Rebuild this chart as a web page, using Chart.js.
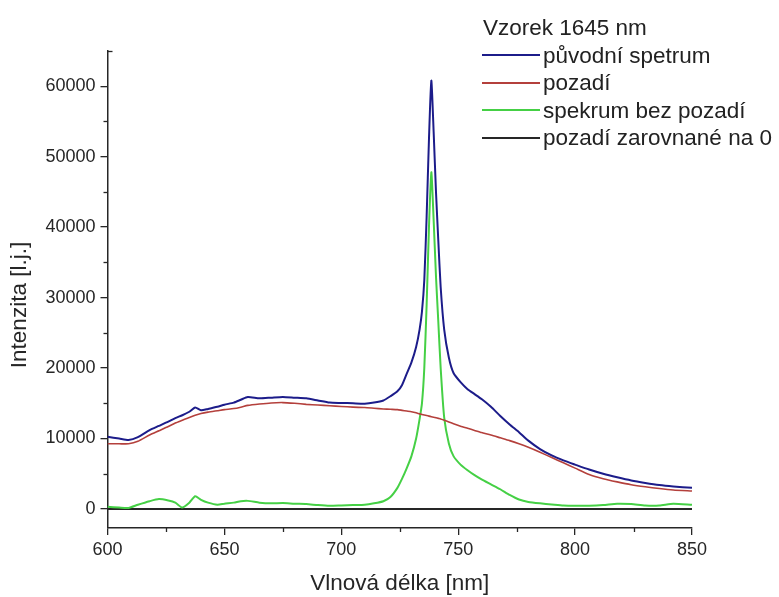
<!DOCTYPE html>
<html><head><meta charset="utf-8">
<script src="https://cdn.jsdelivr.net/npm/chart.js@4/dist/chart.umd.min.js"></script>
<style>
html,body{margin:0;padding:0;background:#fff;overflow:hidden;}
#wrap{position:relative;width:779px;height:597px;}
#legend{position:absolute;left:482px;top:14px;font-family:"Liberation Sans",Arial,sans-serif;font-size:22.5px;color:#222;line-height:27.5px;}
#legend .title{padding-left:1px;}
#legend .item{display:flex;align-items:center;white-space:nowrap;}
#legend .sw{display:inline-block;width:58px;height:2px;margin-right:3px;}
</style></head><body>
<div id="wrap"><canvas id="c" width="779" height="597"></canvas><div id="legend"></div></div>
<script>
const legendTitle = 'Vzorek 1645 nm';
const xTitle = 'Vlnová délka [nm]';
const yTitle = 'Intenzita [l.j.]';
const seriesLabels = ['původní spetrum', 'pozadí', 'spekrum bez pozadí', 'pozadí zarovnané na 0'];

const wavelengths = [600, 605, 609, 613, 618, 622, 626, 629, 632, 635, 637.5,
  640, 643, 647, 650, 654, 657, 660, 665, 670,
  675, 680, 685, 690, 695, 700, 705, 710, 714, 718,
  721, 724, 726, 728, 730, 732,
  733.5, 734.5, 735.5, 736.5, 737.5, 738.5, 739.5, 740.5, 741.5, 742.5,
  744, 746, 748, 751, 754, 757, 760,
  764, 768, 772, 776, 780,
  785, 790, 795, 800,
  806, 812, 818, 824, 830, 836, 842, 850];

const original = [10240, 10000, 9800, 10200, 11200, 11800, 12400, 12900, 13300, 13800, 14400,
  14000, 14200, 14500, 14800, 15100, 15500, 15900, 15700, 15800,
  15900, 15800, 15700, 15400, 15100, 15050, 15000, 14950, 15100, 15400,
  16000, 16700, 17600, 19200, 20800, 23000,
  25500, 28000, 32500, 41500, 52500, 60800, 53500, 45000, 38000, 31500,
  25500, 21500, 19300, 18000, 17000, 16300, 15600,
  14500, 13200, 12000, 10900, 9700,
  8500, 7600, 6900, 6300,
  5600, 5000, 4500, 4050, 3700, 3400, 3200, 3000];

const background = [9250, 9250, 9250, 9600, 10500, 11100, 11700, 12200, 12600, 13000, 13300,
  13550, 13750, 13950, 14100, 14250, 14450, 14700, 14900, 15050,
  15100, 15000, 14850, 14750, 14650, 14550, 14450, 14400, 14300, 14200,
  14150, 14100, 14000, 13900, 13800, 13650,
  13500, 13420, 13340, 13260, 13180, 13100, 13020, 12940, 12860, 12780,
  12600, 12350, 12100, 11750, 11450, 11150, 10850,
  10500, 10100, 9700, 9250, 8750,
  8050, 7300, 6550, 5800,
  4900, 4300, 3850, 3450, 3150, 2900, 2700, 2550];

const corrected = [300, 200, 150, 600, 1100, 1400, 1200, 900, 200, 900, 1800,
  1300, 900, 600, 750, 900, 1100, 1150, 900, 800,
  850, 750, 700, 550, 450, 500, 550, 600, 800, 1100,
  1700, 3000, 4300, 5800, 7500, 10000,
  12800, 15000, 20000, 29000, 40000, 47800, 41000, 33000, 26500, 20000,
  13000, 9300, 7500, 6300, 5500, 4800, 4200,
  3500, 2800, 2000, 1350, 1000,
  800, 650, 500, 450,
  450, 550, 750, 700, 500, 500, 750, 600];

const zeroWavelengths = [600, 850];
const zeroValues = [0, 0];

const xTickValues = [600, 625, 650, 675, 700, 725, 750, 775, 800, 825, 850];
const xTicksMajor = [600, 650, 700, 750, 800, 850];
const yTickValues = [0, 5000, 10000, 15000, 20000, 25000, 30000, 35000, 40000, 45000, 50000, 55000, 60000];
const yTicksMajor = [0, 10000, 20000, 30000, 40000, 50000, 60000];

const colors = ['#1c1c8a', '#b4403c', '#45d045', '#262626'];
const widths = [2, 1.6, 2, 2];

const FONT = '"Liberation Sans", Arial, sans-serif';
const AX = '#262626';

function pts(xs, ys) { return xs.map((x, i) => ({x: x, y: ys[i]})); }

const axisExtras = {
  id: 'axisExtras',
  afterDraw(chart) {
    const {ctx, scales: {x, y}} = chart;
    ctx.save();
    ctx.strokeStyle = AX;
    ctx.lineWidth = 1.3;
    x.ticks.forEach(t => {
      if (!xTicksMajor.includes(t.value)) {
        const px = Math.round(x.getPixelForValue(t.value)) + 0.5;
        ctx.beginPath(); ctx.moveTo(px, x.top); ctx.lineTo(px, x.top + 4); ctx.stroke();
      }
    });
    y.ticks.forEach(t => {
      if (!yTicksMajor.includes(t.value)) {
        const py = Math.round(y.getPixelForValue(t.value)) + 0.5;
        ctx.beginPath(); ctx.moveTo(y.right, py); ctx.lineTo(y.right - 4, py); ctx.stroke();
      }
    });
    ctx.beginPath(); ctx.moveTo(y.right, chart.chartArea.top + 0.5); ctx.lineTo(y.right + 5, chart.chartArea.top + 0.5); ctx.stroke();
    // rotated y-axis title
    ctx.fillStyle = AX;
    ctx.font = '22.5px ' + FONT;
    ctx.textAlign = 'center';
    ctx.textBaseline = 'middle';
    ctx.translate(20, 305);
    ctx.rotate(-Math.PI / 2);
    ctx.fillText(yTitle, 0, 0);
    ctx.restore();
  }
};

const data = [
  pts(wavelengths, original),
  pts(wavelengths, background),
  pts(wavelengths, corrected),
  pts(zeroWavelengths, zeroValues)
];

const chart = new Chart(document.getElementById('c'), {
  type: 'line',
  data: {
    datasets: seriesLabels.map((lab, i) => ({
      label: lab, data: data[i], borderColor: colors[i], backgroundColor: colors[i],
      borderWidth: widths[i], pointRadius: 0, tension: 0.2, fill: false
    }))
  },
  options: {
    responsive: false, animation: false,
    layout: {padding: {left: 0, right: 87, top: 51, bottom: 0}},
    plugins: {legend: {display: false}, tooltip: {enabled: false}},
    scales: {
      x: {
        type: 'linear', min: 600, max: 850,
        afterBuildTicks: s => { s.ticks = xTickValues.map(v => ({value: v})); },
        ticks: {autoSkip: false, maxRotation: 0,
          callback: v => xTicksMajor.includes(v) ? String(v) : '',
          font: {family: FONT, size: 18}, color: AX, padding: 4},
        grid: {drawOnChartArea: false, drawTicks: true, tickLength: 7, lineWidth: 1.3,
          tickColor: c => (c.tick && xTicksMajor.includes(c.tick.value)) ? AX : 'rgba(0,0,0,0)'},
        border: {display: true, color: AX, width: 1.5},
        title: {display: true, text: xTitle, font: {family: FONT, size: 22.5}, color: AX, padding: {top: 6, bottom: 0}},
        afterFit: s => { s.height = 69; }
      },
      y: {
        min: -2700, max: 65000,
        afterBuildTicks: s => { s.ticks = yTickValues.map(v => ({value: v})); },
        ticks: {autoSkip: false,
          callback: v => yTicksMajor.includes(v) ? String(v) : '',
          font: {family: FONT, size: 18}, color: AX, padding: 5},
        grid: {drawOnChartArea: false, drawTicks: true, tickLength: 7, lineWidth: 1.3,
          tickColor: c => (c.tick && yTicksMajor.includes(c.tick.value)) ? AX : 'rgba(0,0,0,0)'},
        border: {display: true, color: AX, width: 1.5},
        title: {display: false, text: yTitle},
        afterFit: s => { s.width = 107.5; }
      }
    }
  },
  plugins: [axisExtras]
});

const leg = document.getElementById('legend');
const t = document.createElement('div'); t.className = 'title'; t.textContent = legendTitle; leg.appendChild(t);
chart.data.datasets.forEach(ds => {
  const row = document.createElement('div'); row.className = 'item';
  const sw = document.createElement('span'); sw.className = 'sw'; sw.style.background = ds.borderColor;
  const tx = document.createElement('span'); tx.textContent = ds.label;
  row.appendChild(sw); row.appendChild(tx); leg.appendChild(row);
});
</script>
</body></html>
